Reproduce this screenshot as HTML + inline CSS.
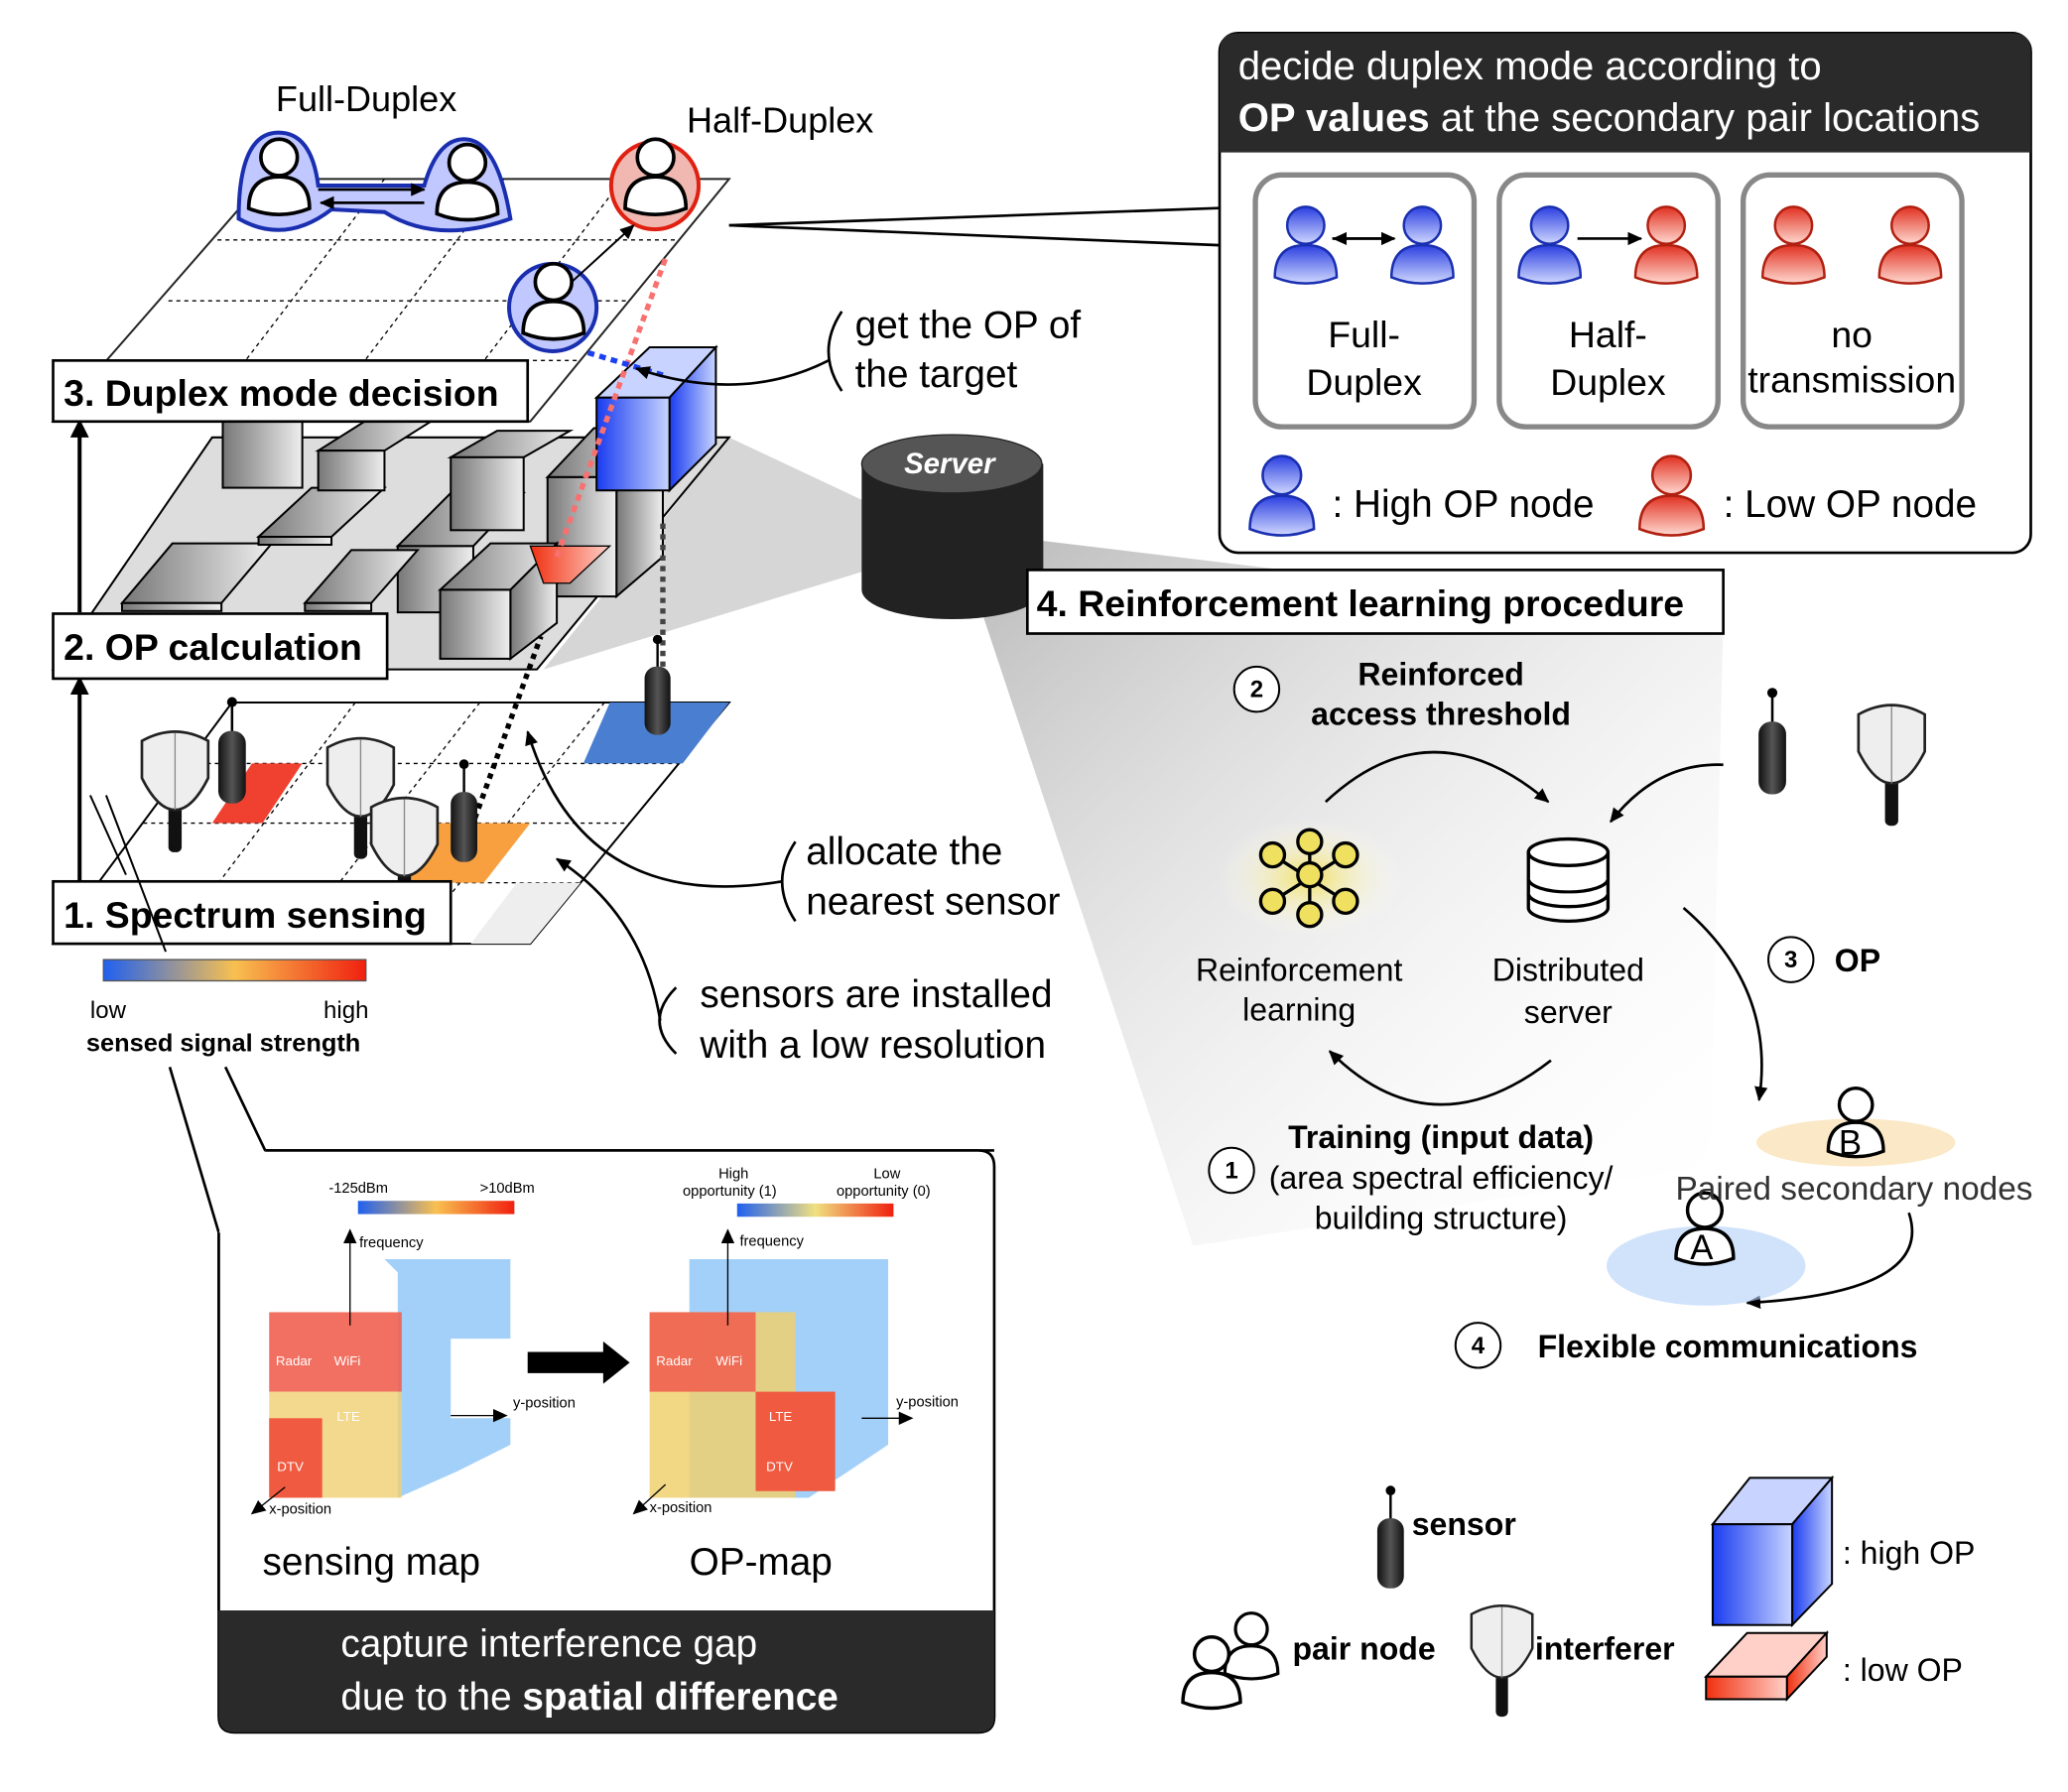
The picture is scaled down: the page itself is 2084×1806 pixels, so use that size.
<!DOCTYPE html>
<html><head><meta charset="utf-8"><style>
html,body{margin:0;padding:0;background:#fff}
svg{display:block}
text{font-family:"Liberation Sans",sans-serif}
</style></head><body>
<svg width="2084" height="1806" viewBox="0 0 1560 1352" xmlns="http://www.w3.org/2000/svg">
<defs>
<linearGradient id="gbox" x1="0" x2="1"><stop offset="0" stop-color="#777"/><stop offset="1" stop-color="#eee"/></linearGradient>
<linearGradient id="gblue" x1="0" x2="1"><stop offset="0" stop-color="#1a3cf0"/><stop offset="1" stop-color="#c8d4ff"/></linearGradient>
<linearGradient id="gred" x1="0" x2="1"><stop offset="0" stop-color="#f03010"/><stop offset="1" stop-color="#ffd0c8"/></linearGradient>
<linearGradient id="gscale" x1="0" x2="1"><stop offset="0" stop-color="#2060f0"/><stop offset="0.5" stop-color="#f8c050"/><stop offset="1" stop-color="#f02010"/></linearGradient>
<linearGradient id="gscale2" x1="0" x2="1"><stop offset="0" stop-color="#2060f0"/><stop offset="0.5" stop-color="#f0e080"/><stop offset="1" stop-color="#f02010"/></linearGradient>
<linearGradient id="gfan" x1="0" y1="0" x2="1" y2="1"><stop offset="0" stop-color="#999"/><stop offset="1" stop-color="#fff" stop-opacity="0"/></linearGradient>
<linearGradient id="gcyl" x1="0" x2="1"><stop offset="0" stop-color="#111"/><stop offset="0.5" stop-color="#555"/><stop offset="1" stop-color="#111"/></linearGradient>
<linearGradient id="gpb" x1="0" y1="0" x2="0" y2="1"><stop offset="0" stop-color="#2a3ee0"/><stop offset="1" stop-color="#d0d8ff"/></linearGradient>
<linearGradient id="gpr" x1="0" y1="0" x2="0" y2="1"><stop offset="0" stop-color="#e03020"/><stop offset="1" stop-color="#ffd8d0"/></linearGradient>
<radialGradient id="gglow"><stop offset="0" stop-color="#f0e060"/><stop offset="1" stop-color="#fff" stop-opacity="0"/></radialGradient>
<symbol id="person" viewBox="0 0 60 70"><circle cx="30" cy="20" r="15" fill="#fff" stroke="#000" stroke-width="3"/><path d="M5 62 Q5 36 30 36 Q55 36 55 62 Q30 72 5 62Z" fill="#fff" stroke="#000" stroke-width="3"/></symbol>
<symbol id="pb" viewBox="0 0 60 70"><circle cx="30" cy="20" r="15" fill="url(#gpb)" stroke="#1a2fb0" stroke-width="2"/><path d="M5 62 Q5 36 30 36 Q55 36 55 62 Q30 72 5 62Z" fill="url(#gpb)" stroke="#1a2fb0" stroke-width="2"/></symbol>
<symbol id="pr" viewBox="0 0 60 70"><circle cx="30" cy="20" r="15" fill="url(#gpr)" stroke="#b02010" stroke-width="2"/><path d="M5 62 Q5 36 30 36 Q55 36 55 62 Q30 72 5 62Z" fill="url(#gpr)" stroke="#b02010" stroke-width="2"/></symbol>
<symbol id="sensor" viewBox="0 0 30 90"><line x1="15" y1="4" x2="15" y2="30" stroke="#000" stroke-width="2"/><circle cx="15" cy="5" r="4"/><rect x="4" y="28" width="22" height="58" rx="10" fill="url(#gcyl)"/></symbol>
<symbol id="interf" viewBox="0 0 54 100"><rect x="22" y="50" width="10" height="48" rx="4" fill="#111"/><path d="M2 14 Q27 0 52 14 L52 42 Q40 66 27 66 Q14 66 2 42Z" fill="#eee" stroke="#222" stroke-width="2"/><line x1="27" y1="8" x2="27" y2="66" stroke="#888"/></symbol>
<marker id="ah" markerUnits="userSpaceOnUse" markerWidth="11" markerHeight="10" refX="10" refY="5" orient="auto"><path d="M0 0L11 5L0 10Z"/></marker>
<marker id="ahL" markerUnits="userSpaceOnUse" markerWidth="14" markerHeight="14" refX="12" refY="7" orient="auto"><path d="M0 0L14 7L0 14Z"/></marker>
</defs>

<polygon points="720,400 1300,470 1290,880 900,940" fill="url(#gfan)" opacity="0.7"/>
<polygon points="550,330 720,410 410,505" fill="#bbb" opacity="0.6"/>

<polygon points="175,530 550,530 400,712 40,712" fill="#fff" stroke="#000" stroke-width="1.5"/>
<g stroke="#000" stroke-dasharray="3,3" stroke-width="1"><line x1="144" y1="576" x2="513" y2="576"/><line x1="108" y1="621" x2="475" y2="621"/><line x1="74" y1="666" x2="438" y2="666"/><line x1="268" y1="530" x2="130" y2="712"/><line x1="362" y1="530" x2="220" y2="712"/><line x1="456" y1="530" x2="310" y2="712"/></g>
<polygon points="190,576 228,576 198,621 160,621" fill="#f04030"/><polygon points="460,530 550,530 515,576 440,576" fill="#4a7ed0"/>
<polygon points="320,621 400,621 365,666 305,666" fill="#f8a040"/>
<polygon points="390,666 438,666 400,712 355,712" fill="#eee"/>

<polygon points="160,330 550,330 405,505 40,505" fill="#ddd" stroke="#000" stroke-width="1.5"/>
<g fill="url(#gbox)" stroke="#000" stroke-width="1.5">
<rect x="168" y="318" width="60" height="50"/>
<polygon points="92,455 130,410 205,410 167,455"/><rect x="92" y="455" width="75" height="6"/>
<polygon points="195,405 235,368 290,368 250,405"/><rect x="195" y="405" width="55" height="6"/>
<polygon points="240,340 275,318 325,318 290,340"/><rect x="240" y="340" width="50" height="30"/>
<polygon points="300,412 340,372 395,372 357,412"/><rect x="300" y="412" width="57" height="50"/>
<polygon points="340,345 375,325 430,325 395,345"/><rect x="340" y="345" width="55" height="55"/>
<polygon points="230,455 265,415 315,415 280,455"/><rect x="230" y="455" width="50" height="6"/>
<polygon points="413,360 448,323 500,323 465,360"/><polygon points="465,360 500,323 500,420 465,450"/><rect x="413" y="360" width="52" height="90"/>
<polygon points="332,445 370,410 420,410 385,445"/><polygon points="385,445 420,410 420,470 385,497"/><rect x="332" y="445" width="53" height="52"/>
</g>
<polygon points="400,412 412,412 460,412 430,440 410,440" fill="url(#gred)" stroke="#000"/>
<g stroke="#000" stroke-width="1.5"><polygon points="450,300 490,262 540,262 505,300" fill="#c8d4ff"/><polygon points="505,300 540,262 540,335 505,370" fill="url(#gblue)"/><rect x="450" y="300" width="55" height="70" fill="url(#gblue)"/></g>

<polygon points="200,135 550,135 400,318 40,318" fill="#fff" stroke="#000" stroke-width="1.5" opacity="0.85"/>
<g stroke="#000" stroke-dasharray="3,3" stroke-width="1"><line x1="164" y1="181" x2="512" y2="181"/><line x1="127" y1="227" x2="475" y2="227"/><line x1="90" y1="272" x2="437" y2="272"/><line x1="290" y1="135" x2="150" y2="318"/><line x1="380" y1="135" x2="240" y2="318"/><line x1="470" y1="135" x2="330" y2="318"/></g>

<path d="M180 165 Q180 100 210 100 Q235 100 240 140 L320 140 Q330 105 350 105 Q375 105 385 165 Q330 185 290 160 L250 158 Q215 185 180 165Z" fill="#c0c8ff" stroke="#1a2fb0" stroke-width="3"/>
<use href="#person" x="183" y="100" width="55" height="65"/><use href="#person" x="325" y="104" width="55" height="65"/>
<line x1="240" y1="143" x2="320" y2="143" stroke="#000" stroke-width="2" marker-end="url(#ah)"/><line x1="320" y1="153" x2="242" y2="153" stroke="#000" stroke-width="2" marker-end="url(#ah)"/>
<circle cx="494" cy="140" r="33" fill="#f0b8b0" stroke="#e02010" stroke-width="3"/><use href="#person" x="467" y="100" width="55" height="65"/>
<circle cx="417" cy="232" r="33" fill="#c0c8ff" stroke="#1a2fb0" stroke-width="3"/><use href="#person" x="390" y="194" width="55" height="65"/>
<line x1="432" y1="212" x2="478" y2="170" stroke="#000" stroke-width="1.5" marker-end="url(#ah)"/>
<line x1="420" y1="420" x2="502" y2="195" stroke="#f87070" stroke-width="4" stroke-dasharray="5,4"/>
<line x1="500" y1="283" x2="440" y2="265" stroke="#1a40f0" stroke-width="4" stroke-dasharray="5,4"/>
<line x1="500" y1="395" x2="500" y2="530" stroke="#444" stroke-width="4" stroke-dasharray="4,4"/>
<line x1="350" y1="640" x2="408" y2="480" stroke="#000" stroke-width="4" stroke-dasharray="4,4"/>

<use href="#interf" x="105" y="545" width="54" height="100"/><use href="#sensor" x="160" y="525" width="30" height="85"/>
<use href="#interf" x="245" y="550" width="54" height="100"/><use href="#interf" x="278" y="595" width="54" height="100"/>
<use href="#sensor" x="336" y="572" width="28" height="82"/><use href="#sensor" x="482" y="478" width="28" height="80"/>

<line x1="60" y1="462" x2="60" y2="318" stroke="#000" stroke-width="3" marker-end="url(#ahL)"/>
<line x1="60" y1="664" x2="60" y2="512" stroke="#000" stroke-width="3" marker-end="url(#ahL)"/>

<rect x="40" y="272" width="358" height="46" fill="#fff" stroke="#000" stroke-width="2"/><text x="48" y="306" font-size="28" font-weight="bold">3. Duplex mode decision</text>
<rect x="40" y="463" width="252" height="49" fill="#fff" stroke="#000" stroke-width="2"/><text x="48" y="498" font-size="28" font-weight="bold">2. OP calculation</text>
<rect x="40" y="665" width="300" height="47" fill="#fff" stroke="#000" stroke-width="2"/><text x="48" y="700" font-size="28" font-weight="bold">1. Spectrum sensing</text>
<text x="208" y="84" font-size="27">Full-Duplex</text><text x="518" y="100" font-size="27">Half-Duplex</text>

<path d="M635 235 Q615 265 635 295" fill="none" stroke="#000" stroke-width="2"/><path d="M625 272 Q560 305 480 278" fill="none" stroke="#000" stroke-width="2" marker-end="url(#ah)"/>
<text x="645" y="255" font-size="29">get the OP of</text><text x="645" y="292" font-size="29">the target</text>
<path d="M600 635 Q580 665 600 695" fill="none" stroke="#000" stroke-width="2"/><path d="M590 665 Q440 690 398 552" fill="none" stroke="#000" stroke-width="2" marker-end="url(#ah)"/>
<text x="608" y="652" font-size="29">allocate the</text><text x="608" y="690" font-size="29">nearest sensor</text>
<path d="M510 745 Q485 770 510 795" fill="none" stroke="#000" stroke-width="2"/><path d="M498 770 Q485 690 420 648" fill="none" stroke="#000" stroke-width="2" marker-end="url(#ah)"/>
<text x="528" y="760" font-size="29">sensors are installed</text><text x="528" y="798" font-size="29">with a low resolution</text>

<rect x="78" y="724" width="198" height="16" fill="url(#gscale)" stroke="#555"/>
<text x="68" y="768" font-size="18">low</text><text x="244" y="768" font-size="18">high</text>
<text x="65" y="793" font-size="19" font-weight="bold">sensed signal strength</text>
<path d="M128 805 L165 930 L165 1215 M170 805 L200 868 L750 868" fill="none" stroke="#000" stroke-width="2"/>
<path d="M68 600 L95 660 M80 600 L125 718" stroke="#000" stroke-width="1.5"/>

<path d="M200 868 L738 868 Q750 868 750 880 L750 1295 Q750 1307 738 1307 L177 1307 Q165 1307 165 1295 L165 930" fill="#fff" stroke="#000" stroke-width="2"/>
<path d="M165 1215 L750 1215 L750 1295 Q750 1307 738 1307 L177 1307 Q165 1307 165 1295Z" fill="#2a2a2a"/>
<text x="257" y="1250" font-size="29" fill="#fff">capture interference gap</text>
<text x="257" y="1290" font-size="29" fill="#fff">due to the <tspan font-weight="bold">spatial difference</tspan></text>
<text x="198" y="1188" font-size="29">sensing map</text><text x="520" y="1188" font-size="29">OP-map</text>
<text x="248" y="900" font-size="11">-125dBm</text><text x="362" y="900" font-size="11">&gt;10dBm</text>
<rect x="270" y="906" width="118" height="10" fill="url(#gscale)"/>
<polygon points="290,950 385,950 385,1010 340,1010 340,1070 385,1070 385,1090 345,1110 300,1130 300,960" fill="#8cc4f8" opacity="0.8"/>
<rect x="203" y="990" width="100" height="60" fill="#f06050" opacity="0.9"/>
<rect x="203" y="1050" width="100" height="80" fill="#f0d070" opacity="0.8"/>
<rect x="203" y="1070" width="40" height="60" fill="#f05a40"/>
<line x1="264" y1="1000" x2="264" y2="928" stroke="#000" marker-end="url(#ah)"/><text x="271" y="941" font-size="11">frequency</text>
<line x1="340" y1="1068" x2="382" y2="1068" stroke="#000" marker-end="url(#ah)"/><text x="387" y="1062" font-size="11">y-position</text>
<line x1="215" y1="1122" x2="190" y2="1142" stroke="#000" marker-end="url(#ah)"/><text x="203" y="1142" font-size="11">x-position</text>
<text x="208" y="1030" font-size="10" fill="#fff">Radar</text><text x="252" y="1030" font-size="10" fill="#fff">WiFi</text><text x="254" y="1072" font-size="10" fill="#fff">LTE</text><text x="209" y="1110" font-size="10" fill="#fff">DTV</text>
<polygon points="398,1020 455,1020 455,1012 475,1028 455,1044 455,1036 398,1036" fill="#000"/>
<text x="542" y="889" font-size="11">High</text><text x="515" y="902" font-size="11">opportunity (1)</text><text x="659" y="889" font-size="11">Low</text><text x="631" y="902" font-size="11">opportunity (0)</text>
<rect x="556" y="908" width="118" height="10" fill="url(#gscale2)"/>
<polygon points="520,950 670,950 670,1090 610,1130 520,1130" fill="#8cc4f8" opacity="0.8"/>
<rect x="490" y="990" width="110" height="140" fill="#f0d070" opacity="0.85"/>
<rect x="490" y="990" width="80" height="60" fill="#f06050" opacity="0.9"/>
<rect x="570" y="1050" width="60" height="75" fill="#f05a40"/>
<line x1="549" y1="1000" x2="549" y2="928" stroke="#000" marker-end="url(#ah)"/><text x="558" y="940" font-size="11">frequency</text>
<line x1="650" y1="1070" x2="688" y2="1070" stroke="#000" marker-end="url(#ah)"/><text x="676" y="1061" font-size="11">y-position</text>
<line x1="502" y1="1120" x2="478" y2="1142" stroke="#000" marker-end="url(#ah)"/><text x="490" y="1141" font-size="11">x-position</text>
<text x="495" y="1030" font-size="10" fill="#fff">Radar</text><text x="540" y="1030" font-size="10" fill="#fff">WiFi</text><text x="580" y="1072" font-size="10" fill="#fff">LTE</text><text x="578" y="1110" font-size="10" fill="#fff">DTV</text>

<path d="M650 350 L650 445 A68 22 0 0 0 787 445 L787 350Z" fill="#222"/>
<ellipse cx="718" cy="350" rx="68" ry="22" fill="#555" stroke="#222"/>
<text x="682" y="357" font-size="22" font-weight="bold" font-style="italic" fill="#fff">Server</text>
<line x1="550" y1="170" x2="920" y2="185" stroke="#000" stroke-width="2"/><line x1="550" y1="170" x2="920" y2="157" stroke="#000" stroke-width="2"/>

<rect x="920" y="25" width="612" height="392" rx="14" fill="#fff" stroke="#000" stroke-width="2"/>
<path d="M934 25 L1518 25 Q1532 25 1532 39 L1532 115 L920 115 L920 39 Q920 25 934 25Z" fill="#2a2a2a"/>
<text x="934" y="60" font-size="30" fill="#fff">decide duplex mode according to</text>
<text x="934" y="99" font-size="30" fill="#fff"><tspan font-weight="bold">OP values</tspan> at the secondary pair locations</text>
<g fill="#fff" stroke="#888" stroke-width="4"><rect x="947" y="132" width="165" height="190" rx="20"/><rect x="1131" y="132" width="165" height="190" rx="20"/><rect x="1315" y="132" width="165" height="190" rx="20"/></g>
<use href="#pb" x="957" y="150" width="56" height="68"/><use href="#pb" x="1045" y="150" width="56" height="68"/><line x1="1005" y1="180" x2="1052" y2="180" stroke="#000" stroke-width="2" marker-end="url(#ah)"/><line x1="1050" y1="180" x2="1006" y2="180" stroke="#000" stroke-width="2" marker-end="url(#ah)"/>
<use href="#pb" x="1141" y="150" width="56" height="68"/><use href="#pr" x="1229" y="150" width="56" height="68"/><line x1="1190" y1="180" x2="1238" y2="180" stroke="#000" stroke-width="2" marker-end="url(#ah)"/>
<use href="#pr" x="1325" y="150" width="56" height="68"/><use href="#pr" x="1413" y="150" width="56" height="68"/>
<g font-size="28" text-anchor="middle"><text x="1029" y="262">Full-</text><text x="1029" y="298">Duplex</text><text x="1213" y="262">Half-</text><text x="1213" y="298">Duplex</text><text x="1397" y="262">no</text><text x="1397" y="296">transmission</text></g>
<use href="#pb" x="938" y="338" width="58" height="70"/><text x="1005" y="390" font-size="29">: High OP node</text>
<use href="#pr" x="1232" y="338" width="58" height="70"/><text x="1300" y="390" font-size="29">: Low OP node</text>

<rect x="775" y="430" width="525" height="48" fill="#fff" stroke="#000" stroke-width="2"/>
<text x="782" y="465" font-size="28" font-weight="bold">4. Reinforcement learning procedure</text>
<g font-size="24" text-anchor="middle">
<text x="1087" y="517" font-weight="bold">Reinforced</text><text x="1087" y="547" font-weight="bold">access threshold</text>
<text x="980" y="740">Reinforcement</text><text x="980" y="770">learning</text>
<text x="1183" y="740">Distributed</text><text x="1183" y="772">server</text>
<text x="1087" y="866" font-weight="bold">Training (input data)</text><text x="1087" y="897">(area spectral efficiency/</text><text x="1087" y="927">building structure)</text>
</g>
<g fill="#fff" stroke="#000" stroke-width="1.5"><circle cx="948" cy="520" r="17"/><circle cx="1351" cy="724" r="17"/><circle cx="929" cy="883" r="17"/><circle cx="1115" cy="1015" r="17"/></g>
<g font-size="18" font-weight="bold" text-anchor="middle"><text x="948" y="526">2</text><text x="1351" y="730">3</text><text x="929" y="889">1</text><text x="1115" y="1021">4</text></g>
<text x="1384" y="733" font-size="24" font-weight="bold">OP</text>
<text x="1160" y="1024" font-size="24" font-weight="bold">Flexible communications</text>
<ellipse cx="988" cy="662" rx="70" ry="45" fill="url(#gglow)"/>
<g stroke="#000" stroke-width="2.5" fill="#f0e060"><line x1="960" y1="645" x2="1015" y2="680"/><line x1="960" y1="680" x2="1015" y2="645"/><line x1="988" y1="635" x2="988" y2="690"/><circle cx="988" cy="635" r="9"/><circle cx="960" cy="645" r="9"/><circle cx="1015" cy="645" r="9"/><circle cx="988" cy="660" r="9"/><circle cx="960" cy="680" r="9"/><circle cx="1015" cy="680" r="9"/><circle cx="988" cy="690" r="9"/></g>
<g fill="#fff" stroke="#000" stroke-width="2.5"><path d="M1153 643 L1153 685 A30 10 0 0 0 1213 685 L1213 643"/><ellipse cx="1183" cy="643" rx="30" ry="10"/><path d="M1153 663 A30 10 0 0 0 1213 663"/><path d="M1153 674 A30 10 0 0 0 1213 674"/></g>
<g fill="none" stroke="#000" stroke-width="2"><path d="M1000 605 Q1080 530 1168 605" marker-end="url(#ah)"/><path d="M1300 577 Q1250 575 1215 620" marker-end="url(#ah)"/><path d="M1270 685 Q1340 745 1327 830" marker-end="url(#ah)"/><path d="M1170 800 Q1080 870 1003 793" marker-end="url(#ah)"/><path d="M1440 915 Q1460 975 1318 983" marker-end="url(#ah)"/></g>
<use href="#sensor" x="1322" y="518" width="30" height="85"/><use href="#interf" x="1400" y="525" width="54" height="100"/>
<ellipse cx="1400" cy="862" rx="75" ry="18" fill="#f8d8a0" opacity="0.6"/><ellipse cx="1287" cy="955" rx="75" ry="30" fill="#b0d0f8" opacity="0.6"/>
<use href="#person" x="1375" y="816" width="50" height="60"/><use href="#person" x="1260" y="895" width="52" height="62"/>
<text x="1387" y="871" font-size="26">B</text><text x="1275" y="950" font-size="26">A</text>
<text x="1264" y="905" font-size="25" fill="#333">Paired secondary nodes</text>

<use href="#sensor" x="1035" y="1120" width="28" height="82"/><text x="1065" y="1158" font-size="24" font-weight="bold">sensor</text>
<use href="#person" x="920" y="1212" width="48" height="58"/><use href="#person" x="888" y="1230" width="52" height="62"/><text x="975" y="1252" font-size="24" font-weight="bold">pair node</text>
<use href="#interf" x="1108" y="1205" width="50" height="92"/><text x="1158" y="1252" font-size="24" font-weight="bold">interferer</text>
<g stroke="#000" stroke-width="1.5"><polygon points="1292,1150 1320,1115 1382,1115 1352,1150" fill="#c8d4ff"/><polygon points="1352,1150 1382,1115 1382,1195 1352,1226" fill="url(#gblue)"/><rect x="1292" y="1150" width="60" height="76" fill="url(#gblue)"/>
<polygon points="1287,1265 1318,1232 1378,1232 1348,1265" fill="#ffd0c8"/><polygon points="1348,1265 1378,1232 1378,1250 1348,1282" fill="url(#gred)"/><rect x="1287" y="1265" width="61" height="17" fill="url(#gred)"/></g>
<text x="1390" y="1180" font-size="24">: high OP</text><text x="1390" y="1268" font-size="24">: low OP</text>
</svg>
</body></html>
